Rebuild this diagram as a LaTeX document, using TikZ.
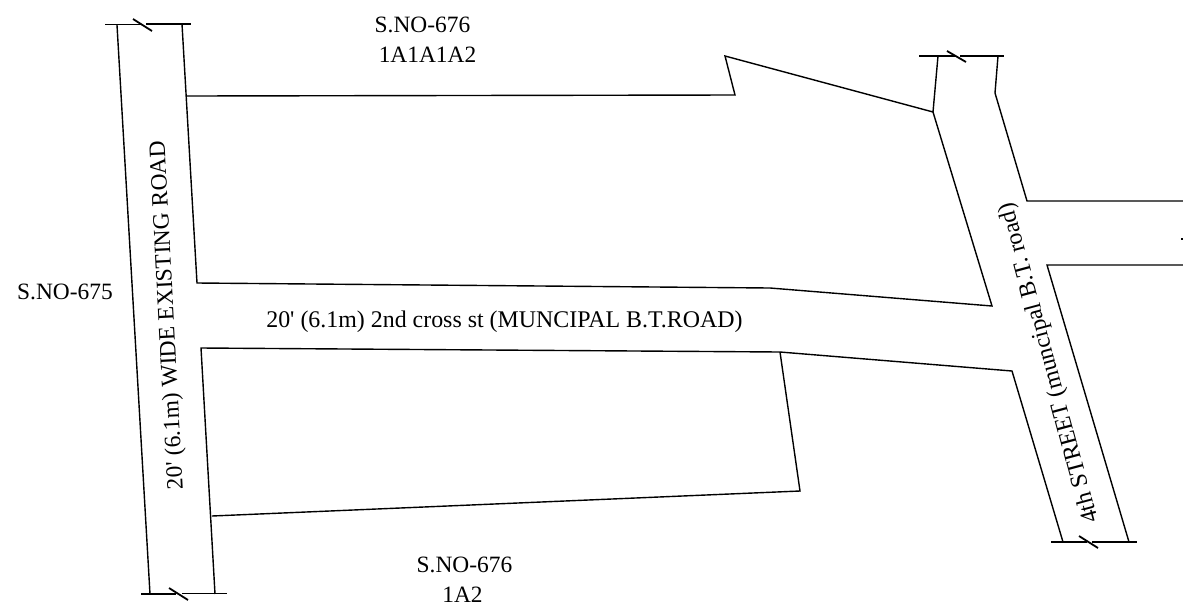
\documentclass[tikz,border=0pt]{standalone}
\usepackage{fontspec}
\newfontfamily\lblfont{Liberation Serif}
\tikzset{
  wall/.style={draw=black,line width=1.4pt,line join=miter},
  cutline/.style={draw=black,line width=1.6pt},
  breakmark/.style={draw=black,line width=1.8pt},
  lbl/.style={font=\lblfont\fontsize{23.4}{26}\selectfont,text=black,inner sep=0pt,align=center},
  lblwide/.style={font=\lblfont\fontsize{23.9}{26}\selectfont,text=black,inner sep=0pt,align=center}
}
\begin{document}
\begin{tikzpicture}[x=1pt,y=-1pt]
\useasboundingbox (0,0) rectangle (1183,606);
% left road
\draw[cutline] (105,24.5) -- (142,24.5) (146,24) -- (191,24);
\draw[breakmark] (133,19) -- (152,31);
\draw[wall] (117,25) -- (150,594);
\draw[wall] (182,24) -- (197,283) -- (770,288) -- (992,306) -- (933,112) -- (938,56);
\draw[wall] (187,96) -- (735,95) -- (725,56) -- (933,112);
\draw[wall] (215,594) -- (201,348) -- (780,352) -- (1012,371) -- (1063,542);
\draw[wall] (780,352) -- (800,491) -- (212,516);
\draw[cutline] (141,594) -- (176,594) (182,593.5) -- (227,593.5);
\draw[breakmark] (169,588) -- (188,600);
% right road
\draw[cutline] (919,56) -- (955,56) (960,56) -- (1004,56);
\draw[breakmark] (947,51) -- (966,62);
\draw[wall] (998,56) -- (995,93) -- (1027,201) -- (1183,201);
\draw[wall] (1183,265) -- (1047,265) -- (1129,542);
\draw[cutline] (1051,542) -- (1087,542) (1092,542) -- (1137,542);
\draw[breakmark] (1079,536) -- (1098,548);
\draw[wall] (1181,239) -- (1183,239);
% labels
\node[lbl] (n1) at (422.5,24.5) {S.NO-676};
\node[lbl] (n2) at (427.5,55) {1A1A1A2};
\node[lbl] (n3) at (65,292) {S.NO-675};
\node[lbl] (n4) at (464.5,565) {S.NO-676};
\node[lbl] (n5) at (462.5,595) {1A2};
\node[lblwide] (n6) at (504.5,322) {20' (6.1m) 2nd cross st (MUNCIPAL B.T.ROAD)};
\node[lbl,rotate=93] (n7) at (168,315) {20' (6.1m) WIDE EXISTING ROAD};
\node[lblwide,rotate=105] (n8) at (1050,363) {4th STREET (muncipal B.T. road)};
\end{tikzpicture}
\end{document}
